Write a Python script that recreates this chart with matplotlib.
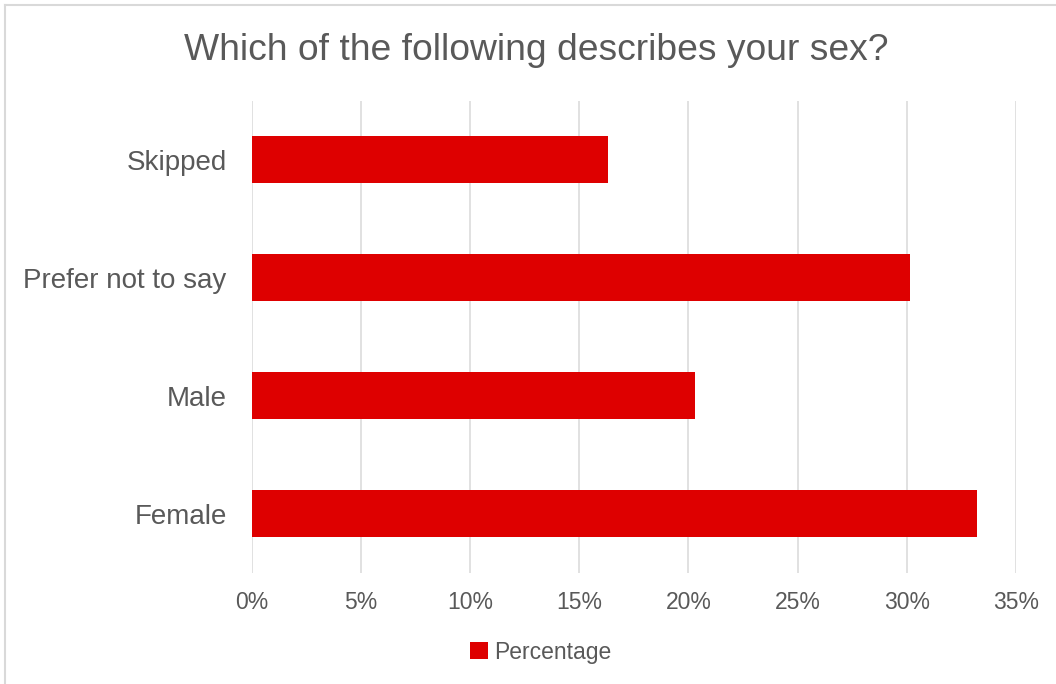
import matplotlib
matplotlib.use("Agg")
import matplotlib.pyplot as plt
from matplotlib.lines import Line2D
from matplotlib.patches import Patch
from matplotlib.ticker import PercentFormatter

# Survey results (share of respondents, %)
categories = ["Female", "Male", "Prefer not to say", "Skipped"]
percentages = [33.22, 20.31, 30.16, 16.30]
x_ticks = [0, 5, 10, 15, 20, 25, 30, 35]

bar_color = "#DE0000"
text_color = "#595959"
grid_color = "#D9D9D9"

plt.rcParams["font.family"] = ["Liberation Sans", "DejaVu Sans"]

W, H = 1056, 684
fig = plt.figure(figsize=(W / 100, H / 100), dpi=100)

# plot area in pixel terms
left, right, top, bottom = 251.7, 1016.0, 100.5, 572.5
ax = fig.add_axes([left / W, 1 - bottom / H, (right - left) / W, (bottom - top) / H])

ax.barh(range(len(categories)), percentages, height=0.4, color=bar_color, zorder=3)
ax.set_xlim(0, 35)
ax.set_ylim(-0.5, len(categories) - 0.5)
ax.set_xticks(x_ticks)
ax.xaxis.set_major_formatter(PercentFormatter(decimals=0))
ax.set_yticks(range(len(categories)))
ax.set_yticklabels(categories)

ax.grid(axis="x", color=grid_color, linewidth=1.1, zorder=0)
for s in ax.spines.values():
    s.set_visible(False)
ax.tick_params(axis="both", length=0, colors=text_color)
ax.tick_params(axis="x", labelsize=16.5, pad=13)
ax.tick_params(axis="y", labelsize=20, pad=18)

fig.text(536.5 / W, 1 - 60 / H, "Which of the following describes your sex?",
         ha="center", va="baseline", fontsize=26.8, color=text_color)

handle = Patch(facecolor=bar_color, edgecolor="none")
fig.legend([handle], ["Percentage"], loc="center", bbox_to_anchor=(541 / W, 1 - 652 / H),
           frameon=False, fontsize=16.5, labelcolor=text_color,
           handlelength=0.75, handleheight=0.75, handletextpad=0.3)

# chart area outline
fig.add_artist(Line2D([5 / W, 5 / W], [0, 1 - 5 / H], transform=fig.transFigure,
                      color=grid_color, linewidth=1.5))
fig.add_artist(Line2D([5 / W, 1], [1 - 5 / H, 1 - 5 / H], transform=fig.transFigure,
                      color=grid_color, linewidth=1.5))

fig.savefig("out.png", dpi=100, facecolor="white")
